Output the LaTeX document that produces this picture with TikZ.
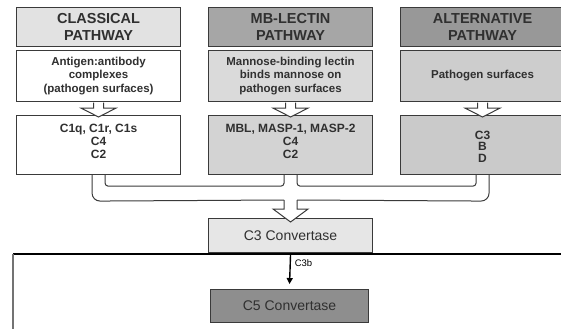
\documentclass[tikz,border=0pt]{standalone}
\usepackage{fontspec}
\setmainfont{Liberation Sans}
\usetikzlibrary{calc,arrows.meta}

\definecolor{edge}{HTML}{3A3A3A}
\definecolor{ink}{HTML}{303030}
\definecolor{hA}{HTML}{E2E2E2}
\definecolor{hB}{HTML}{A6A6A6}
\definecolor{hC}{HTML}{989898}
\definecolor{mB}{HTML}{DADADA}
\definecolor{mC}{HTML}{CDCDCD}
\definecolor{bB}{HTML}{D3D3D3}
\definecolor{bC}{HTML}{CACACA}
\definecolor{cthree}{HTML}{E6E6E6}
\definecolor{cfive}{HTML}{8E8E8E}

\tikzset{
  box/.style={draw=edge, line width=1.1pt, anchor=north west, inner sep=0pt,
    align=center, text=ink},
  headbox/.style={box, minimum width=164pt, minimum height=39pt,
    font=\fontsize{14.5}{16.8}\selectfont\bfseries},
  causebox/.style={box, minimum width=164pt, minimum height=51pt,
    font=\fontsize{11.5}{13.3}\selectfont\bfseries},
  partsbox/.style={box, minimum width=164pt, minimum height=59pt},
  partstext/.style={inner sep=0pt, align=center, text=ink,
    font=\fontsize{12}{12.8}\selectfont\bfseries},
  convbox/.style={box, font=\fontsize{14}{16}\selectfont},
  wire/.style={draw=edge, line width=1pt},
  hollow/.style={wire, fill=white, line join=miter},
}

\begin{document}
\begin{tikzpicture}[x=1pt, y=-1pt]
\useasboundingbox (0,0) rectangle (561,329);

% column headers
\node[headbox, fill=hA] (h1) at (16,7)  {CLASSICAL\\PATHWAY};
\node[headbox, fill=hB] (h2) at (208,7) {MB-LECTIN\\PATHWAY};
\node[headbox, fill=hC] (h3) at (400,7) {ALTERNATIVE\\PATHWAY};

% triggers
\node[causebox, fill=white] (m1) at (16,50)
  {Antigen:antibody\\complexes\\(pathogen surfaces)};
\node[causebox, fill=mB] (m2) at (208,50)
  {Mannose-binding lectin\\binds mannose on\\pathogen surfaces};
\node[causebox, fill=mC] (m3) at (400,50) {Pathogen surfaces};

% components
\node[partsbox, fill=white] (b1) at (16,115)  {};
\node[partsbox, fill=bB]    (b2) at (208,115) {};
\node[partsbox, fill=bC]    (b3) at (400,115) {};
\node[partstext] (b1t) at ($(b1.center)+(0,-3.5)$) {C1q, C1r, C1s\\C4\\C2};
\node[partstext] (b2t) at ($(b2.center)+(0,-3.5)$) {MBL, MASP-1, MASP-2\\C4\\C2};
\node[partstext, font=\fontsize{12}{11.5}\selectfont\bfseries]
  (b3t) at ($(b3.center)+(0,1.5)$) {C3\\B\\D};

% convertases
\node[convbox, fill=cthree, minimum width=164pt, minimum height=34pt]
  (c3) at (208,218) {C3 Convertase};
\node[convbox, fill=cfive, minimum width=158pt, minimum height=33pt]
  (c5) at (210,289) {C5 Convertase};

% hollow arrows from trigger to components
\foreach \i in {1,2,3}{
  \draw[hollow] ($(m\i.south)+(-5,0.6)$) -- ++(0,5.4) -- ++(-12.5,0)
    -- ($(b\i.north)+(0,2)$) -- ($(m\i.south)+(17.5,6)$) -- ++(-12.5,0)
    -- ++(0,-5.4);
}

% merging channel into the C3 convertase
\draw[wire, rounded corners=3pt]
  ($(b1.south)+(6.5,0)$) -- ($(b1.south)+(6.5,11)$)
  -- ($(b2.south)+(-6.5,11)$) -- ($(b2.south)+(-6.5,0)$);
\draw[wire, rounded corners=3pt]
  ($(b2.south)+(6.5,0)$) -- ($(b2.south)+(6.5,11)$)
  -- ($(b3.south)+(-6.5,11)$) -- ($(b3.south)+(-6.5,0)$);
\draw[wire, rounded corners=8pt]
  ($(b1.south)+(-6.5,0)$) -- ($(b1.south)+(-6.5,26)$)
  -- ($(c3.north)+(-6.5,-18)$);
\draw[wire, rounded corners=8pt]
  ($(c3.north)+(6.5,-18)$) -- ($(b3.south)+(6.5,26)$)
  -- ($(b3.south)+(6.5,0)$);
\draw[hollow]
  ($(c3.north)+(-6.5,-18)$) -- ($(c3.north)+(-6.5,-9)$)
  -- ($(c3.north)+(-17.5,-9)$) -- ($(c3.north)+(0,4)$)
  -- ($(c3.north)+(17.5,-9)$) -- ($(c3.north)+(6.5,-9)$)
  -- ($(c3.north)+(6.5,-18)$);

% divider and C3b step
\coordinate (dl) at (13,254);
\coordinate (dr) at (561,254);
\coordinate (db) at (13,329);
\draw[black, line width=1.4pt] (dl) -- (dr);
\draw[black!55, line width=1.8pt] (dl) -- (db);
\draw[black, line width=1.4pt, -{Triangle[length=6pt, width=6pt]}]
  (c3.south |- dl) -- ($(c5.north)+(0,-5)$);
\node[anchor=west, inner sep=0pt, font=\fontsize{9.5}{11}\selectfont]
  (c3b) at ($(c3.south |- dl)+(4,9)$) {C3b};
\end{tikzpicture}
\end{document}
